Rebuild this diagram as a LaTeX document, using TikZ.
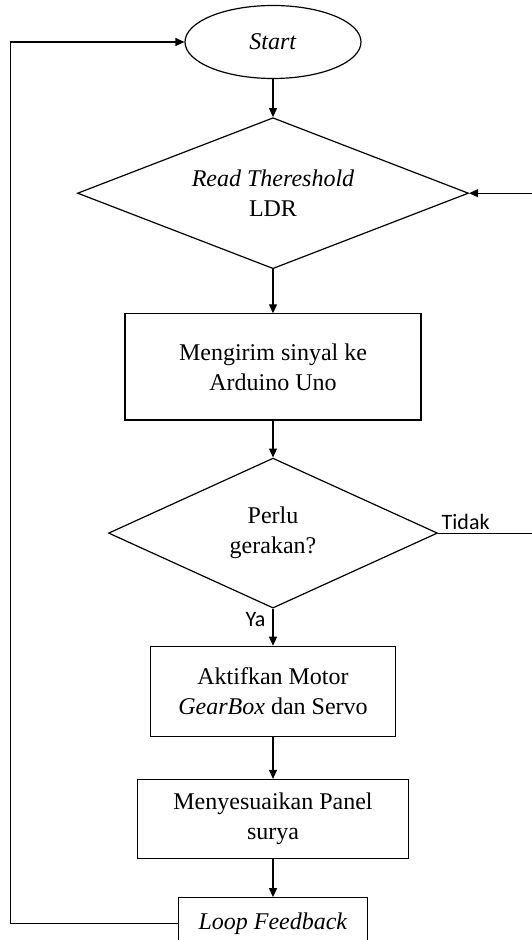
\documentclass[tikz,border=0pt]{standalone}
\usepackage{fontspec}
\setmainfont{Liberation Serif}
\newfontfamily\labelfont{Carlito}
\usetikzlibrary{shapes.geometric, arrows.meta, positioning}
\tikzset{
    startstop/.style={ellipse, draw, minimum width=88pt, minimum height=36.5pt, inner sep=0pt, font=\fontsize{12}{15}\selectfont},
    decision/.style={diamond, draw, align=center, inner sep=0pt, shape aspect=2.4, font=\fontsize{12}{15}\selectfont},
    process/.style={rectangle, draw, align=center, inner sep=0pt, font=\fontsize{12}{15}\selectfont},
    branchtext/.style={font=\labelfont\fontsize{11}{13}\selectfont, inner sep=1.5pt},
    arrow/.style={-{Triangle[length=4.5pt, width=4pt]}},
}

\begin{document}
\begin{tikzpicture}[x=0.5pt, y=-0.5pt, line width=0.6pt]
        \useasboundingbox (0,0) rectangle (531,940);
        % Nodes
        \node [startstop] (start) at (273,42) {\textit{Start}};
        \node [decision, minimum width=195.5pt, minimum height=75.5pt, below=19pt of start] (ldr) {\textit{Read Thereshold}\\LDR};
        \node [process, minimum width=148pt, minimum height=53pt, below=22pt of ldr] (kirim) {Mengirim sinyal ke\\Arduino Uno};
        \node [decision, minimum width=164.5pt, minimum height=75pt, below=18.5pt of kirim] (gerak) {Perlu\\gerakan?};
        \node [process, minimum width=122.5pt, minimum height=45pt, below=18.5pt of gerak] (motor) {Aktifkan Motor\\\textit{GearBox} dan Servo};
        \node [process, minimum width=135.5pt, minimum height=39.5pt, below=21pt of motor] (panel) {Menyesuaikan Panel\\surya};
        \node [process, minimum width=94.5pt, minimum height=26pt, below=19pt of panel] (loop) {\textit{Loop Feedback}};

        % Edges
        \draw [arrow] (start) -- (ldr);
        \draw [arrow] (ldr) -- (kirim);
        \draw [arrow] (kirim) -- (gerak);
        \draw [arrow] (gerak) -- node[branchtext, pos=0, anchor=north east, xshift=-2pt] {Ya} (motor);
        \draw [arrow] (motor) -- (panel);
        \draw [arrow] (panel) -- (loop);
        \draw [arrow] (gerak.east) -- node[branchtext, pos=0, anchor=south west] {Tidak} ++(96,0) |- (ldr.east);
        \draw [arrow] (loop.west) -- ++(-167.5,0) |- (start.west);
    \end{tikzpicture}
\end{document}
